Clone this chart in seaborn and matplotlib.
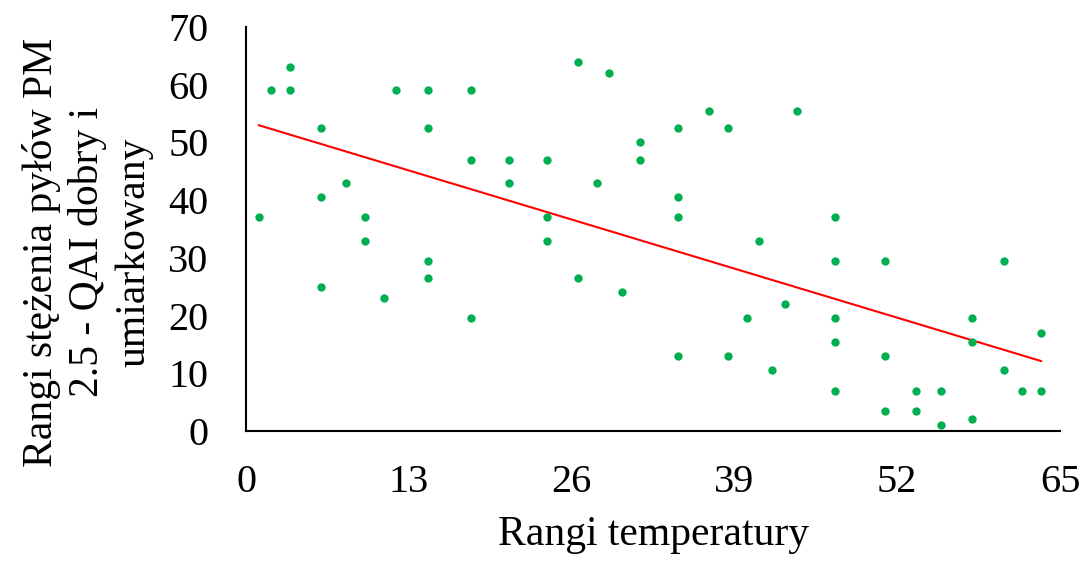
import matplotlib
matplotlib.use("Agg")
import matplotlib.pyplot as plt
import seaborn as sns
import pandas as pd

# Rank data
temp_rank = [
    1, 2, 3.5, 3.5, 6, 6, 6, 8, 9.5, 9.5, 11, 12, 14.5, 14.5, 14.5, 14.5,
    18, 18, 18, 21, 21, 24, 24, 24, 26.5, 26.5, 28, 29, 30, 31.5, 31.5,
    34.5, 34.5, 34.5, 34.5, 37, 38.5, 38.5, 40, 41, 42, 43, 44,
    47, 47, 47, 47, 47, 51, 51, 51, 53.5, 53.5, 55.5, 55.5,
    58, 58, 58, 60.5, 60.5, 62, 63.5, 63.5,
]
pm_rank = [
    37, 59, 63, 59, 52.5, 40.5, 25, 43, 37, 33, 23, 59, 59, 52.5, 29.5, 26.5,
    59, 47, 19.5, 47, 43, 47, 37, 33, 64, 26.5, 43, 62, 24, 50, 47,
    52.5, 40.5, 37, 13, 55.5, 52.5, 13, 19.5, 33, 10.5, 22, 55.5,
    37, 29.5, 19.5, 15.5, 7, 29.5, 13, 3.5, 7, 3.5, 7, 1,
    19.5, 15.5, 2, 29.5, 10.5, 7, 17, 7,
]

x_ticks = [0, 13, 26, 39, 52, 65]
y_ticks = [0, 10, 20, 30, 40, 50, 60, 70]

df = pd.DataFrame({"temp": temp_rank, "pm": pm_rank})

sns.set_style("white")
plt.rcParams["font.family"] = ["Liberation Serif", "DejaVu Serif"]
plt.rcParams["text.color"] = "black"
plt.rcParams["xtick.color"] = "black"
plt.rcParams["ytick.color"] = "black"
plt.rcParams["axes.labelcolor"] = "black"

fig = plt.figure(figsize=(10.89, 5.65), dpi=100)
ax = fig.add_axes([0.2259, 0.2372, 0.7475, 0.715])

sns.regplot(
    data=df, x="temp", y="pm", ax=ax, ci=None, truncate=True,
    scatter_kws={"s": 36, "color": "#00B050", "alpha": 1,
                 "linewidths": 0, "zorder": 3},
    line_kws={"color": "#FF0000", "linewidth": 1.5, "zorder": 2},
)

ax.set_xlim(0, 65)
ax.set_ylim(0, 70)
ax.set_xticks(x_ticks)
ax.set_yticks(y_ticks)
ax.tick_params(axis="both", length=0, labelsize=29)
ax.tick_params(axis="x", pad=24)
ax.tick_params(axis="y", pad=27)

sns.despine(ax=ax)
for side in ["left", "bottom"]:
    ax.spines[side].set_color("#000000")
    ax.spines[side].set_linewidth(1.5)

ax.set_xlabel("Rangi temperatury", fontsize=30)
ax.xaxis.set_label_coords(0.5, -0.21)
ax.set_ylabel("Rangi stężenia pyłów PM\n2.5 - QAI dobry i\numiarkowany",
              fontsize=30, linespacing=1.25)
ax.yaxis.set_label_coords(-0.195, 0.443)
ax.yaxis.label.set_va("center")

fig.savefig("out.png", dpi=100)
